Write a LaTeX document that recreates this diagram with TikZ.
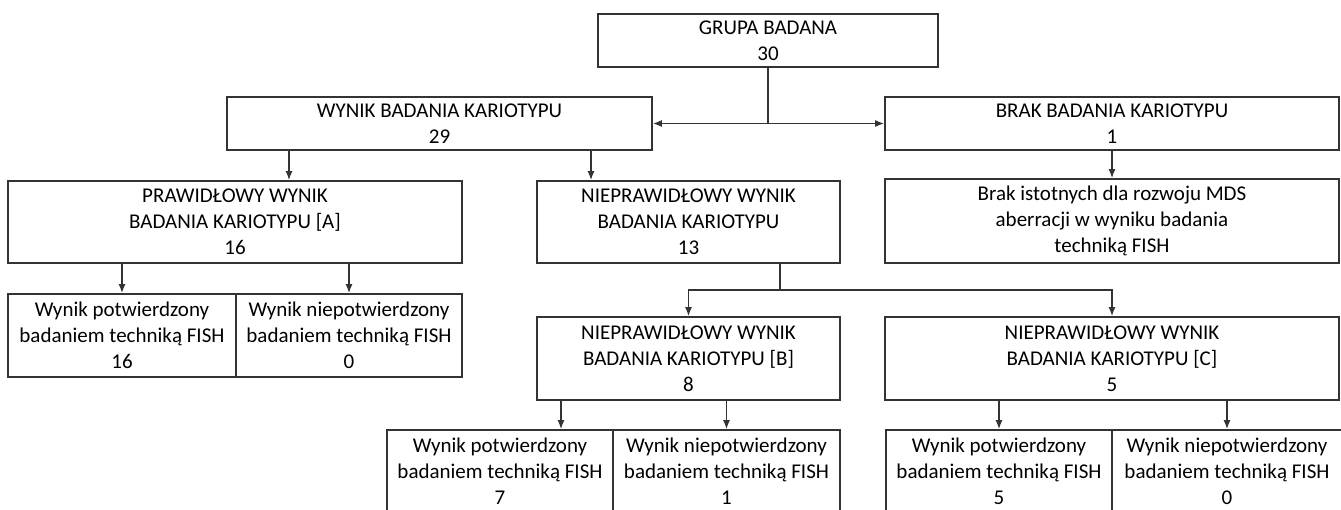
\documentclass[tikz,border=0pt]{standalone}
\usepackage{fontspec}
\setmainfont{Carlito}
\usetikzlibrary{arrows.meta}

\tikzset{
  box/.style={draw=black!80, line width=1.6pt, align=center, inner sep=0pt,
    font=\fontsize{21}{26}\selectfont},
  line/.style={draw=black!80, line width=1.6pt},
  arr/.style={line, -{Latex[length=9pt,width=7pt]}}
}

\begin{document}
\begin{tikzpicture}[x=1pt,y=-1pt]
  \useasboundingbox (0,0) rectangle (1341,509);
  \clip (0,0) rectangle (1341,509);

  % top
  \node[box, minimum width=340pt, minimum height=53pt] (grupa) at (768,40.5) {GRUPA BADANA\\30};
  \node[box, minimum width=425pt, minimum height=53pt] (wynik) at (439.5,123.5) {WYNIK BADANIA KARIOTYPU\\29};
  \node[box, minimum width=454pt, minimum height=53pt] (brak) at (1112,123.5) {BRAK BADANIA KARIOTYPU\\1};

  % second level
  \node[box, minimum width=454pt, minimum height=82pt] (prawA) at (235,222) {PRAWIDŁOWY WYNIK\\BADANIA KARIOTYPU [A]\\16};
  \node[box, minimum width=303pt, minimum height=82pt] (nieprawid) at (688.5,222) {NIEPRAWIDŁOWY WYNIK\\BADANIA KARIOTYPU\\13};
  \node[box, minimum width=454pt, minimum height=84pt] (brakFish) at (1112,221) {Brak istotnych dla rozwoju MDS\\aberracji w wyniku badania\\techniką FISH};

  % FISH for A
  \node[box, minimum width=228pt, minimum height=83pt] (fishA1) at (122,335.5) {Wynik potwierdzony\\badaniem techniką FISH\\16};
  \node[box, minimum width=226pt, minimum height=83pt] (fishA2) at (349,335.5) {Wynik niepotwierdzony\\badaniem techniką FISH\\0};

  % B and C
  \node[box, minimum width=303pt, minimum height=83pt] (kB) at (688.5,358.5) {NIEPRAWIDŁOWY WYNIK\\BADANIA KARIOTYPU [B]\\8};
  \node[box, minimum width=454pt, minimum height=83pt] (kC) at (1112,358.5) {NIEPRAWIDŁOWY WYNIK\\BADANIA KARIOTYPU [C]\\5};

  \node[box, minimum width=226pt, minimum height=83pt] (fishB1) at (500,471.5) {Wynik potwierdzony\\badaniem techniką FISH\\7};
  \node[box, minimum width=227pt, minimum height=83pt] (fishB2) at (726.5,471.5) {Wynik niepotwierdzony\\badaniem techniką FISH\\1};
  \node[box, minimum width=226pt, minimum height=83pt] (fishC1) at (999,471.5) {Wynik potwierdzony\\badaniem techniką FISH\\5};
  \node[box, minimum width=230pt, minimum height=83pt] (fishC2) at (1227,471.5) {Wynik niepotwierdzony\\badaniem techniką FISH\\0};

  % connectors
  \coordinate (g) at (grupa.south |- wynik.east);
  \draw[line] (grupa.south) -- (g);
  \draw[arr] (g) -- (wynik.east);
  \draw[arr] (g) -- (brak.west);

  \coordinate (wa) at (289,0);
  \coordinate (wb) at (591,0);
  \draw[arr] (wynik.south -| wa) -- (prawA.north -| wa);
  \draw[arr] (wynik.south -| wb) -- (nieprawid.north -| wb);
  \draw[arr] (brak.south) -- (brakFish.north);

  \draw[arr] (prawA.south -| fishA1.north) -- (fishA1.north);
  \draw[arr] (prawA.south -| fishA2.north) -- (fishA2.north);

  \coordinate (split) at (780,290);
  \draw[line] (nieprawid.south -| split) -- (split);
  \draw[arr] (split) -| (kB.north);
  \draw[arr] (split) -| (kC.north);

  \coordinate (ba) at (561,0);
  \draw[arr] (kB.south -| ba) -- (fishB1.north -| ba);
  \draw[arr] (kB.south -| fishB2.north) -- (fishB2.north);
  \draw[arr] (kC.south -| fishC1.north) -- (fishC1.north);
  \draw[arr] (kC.south -| fishC2.north) -- (fishC2.north);
\end{tikzpicture}
\end{document}
